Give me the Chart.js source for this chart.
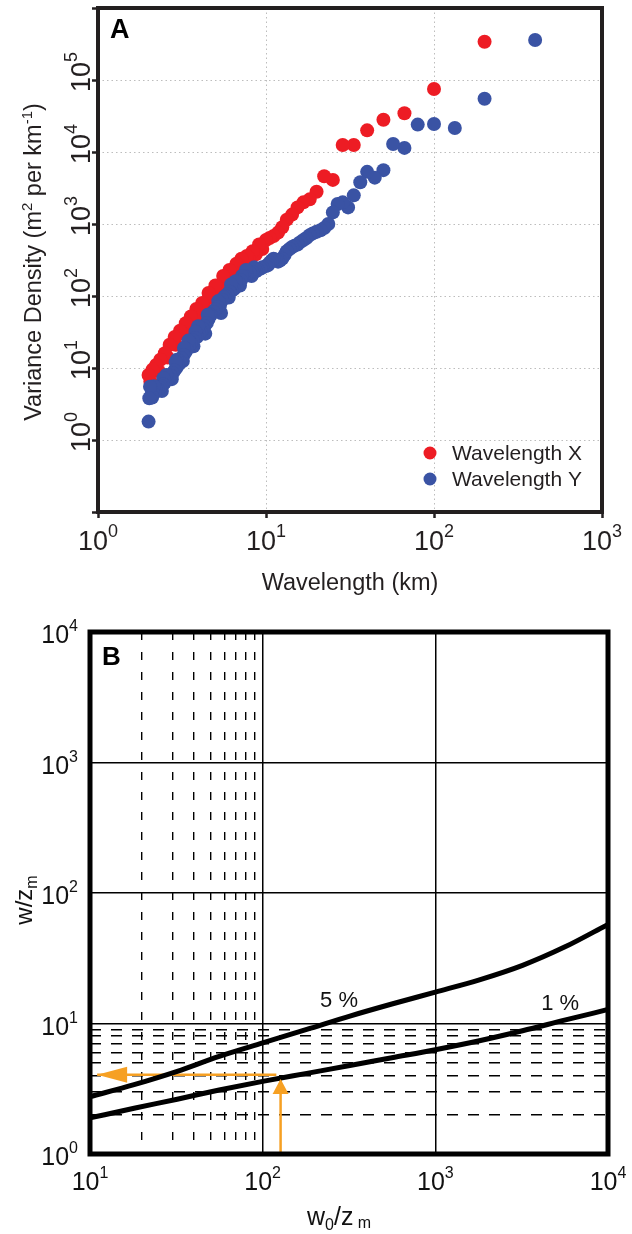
<!DOCTYPE html>
<html>
<head>
<meta charset="utf-8">
<script src="https://cdn.jsdelivr.net/npm/chart.js@4.4.1/dist/chart.umd.min.js"></script>
<style>
  body { margin: 0; background: #fff; overflow: hidden; }
  #wrap { position: relative; width: 632px; height: 1234px; }
  canvas { position: absolute; left: 0; }
  #chartA { top: 0; }
  #chartB { top: 600px; }
</style>
</head>
<body>
<div id="wrap">
  <canvas id="chartA" width="632" height="600"></canvas>
  <canvas id="chartB" width="632" height="634"></canvas>
</div>
<script>
// ---------- PANEL A DATA ----------
const wavelengthX = [200, 100, 66.7, 50, 40, 33.3, 28.6, 25, 22.2, 20, 18.2, 16.7, 15.4, 14.3, 13.3,
  12.5, 11.8, 11.1, 10.5, 10, 9.5, 9.09, 8.7, 8.33, 7.9, 7.69, 7.14, 7.0, 6.67, 6.4,
  6.06, 5.8, 5.56, 5.3, 5.0, 4.8, 4.55, 4.3, 4.17, 3.9, 3.85, 3.57, 3.5, 3.33, 3.2,
  3.08, 2.9, 2.86, 2.67, 2.6, 2.5, 2.35, 2.3, 2.22, 2.11, 2.05, 2.0];
const varianceX = [3.4e5, 7.5e4, 3.45e4, 2.8e4, 2.0e4, 1.25e4, 1.25e4, 4.1e3, 4.6e3, 2.8e3, 2.2e3, 2.0e3, 1.7e3, 1.35e3, 1.15e3,
  900, 760, 680, 640, 600, 450, 520, 380, 420, 330, 360, 330, 260, 280, 210,
  230, 165, 190, 125, 140, 95, 110, 70, 80, 52, 66, 52, 38, 42, 30,
  33, 21, 27, 21, 14, 16, 13, 9, 11, 9.5, 6.5, 8];

const wavelengthY = [400, 200, 133, 100, 80, 66.7, 57.1, 50, 44.4, 40, 36.4, 33.3, 30.8, 28.6, 26.7,
  25, 23.5, 22.2, 21.1, 20, 19.0, 18.2, 17.4, 16.7, 16.0, 15.4, 14.8, 14.3, 13.8, 13.3,
  12.9, 12.5, 12.1, 11.8, 11.4, 11.1, 10.8, 10.5, 10.3, 10, 9.5, 9.3, 8.9, 8.7, 8.5,
  8.3, 8.2, 8.0, 7.7, 7.6, 7.4, 7.2, 7.1, 7.0, 6.9, 6.67, 6.6, 6.45, 6.25, 6.2,
  6.06, 6.0, 5.88, 5.71, 5.6, 5.5, 5.4, 5.33, 5.2, 5.16, 5.0, 4.85, 4.71, 4.6, 4.55,
  4.5, 4.44, 4.35, 4.3, 4.21, 4.1, 4.0, 3.95, 3.88, 3.8, 3.77, 3.7, 3.67, 3.57, 3.48,
  3.45, 3.39, 3.31, 3.25, 3.23, 3.2, 3.15, 3.08, 3.0, 2.95, 2.92, 2.9, 2.85, 2.78, 2.75,
  2.7, 2.63, 2.56, 2.55, 2.5, 2.45, 2.44, 2.4, 2.38, 2.33, 2.27, 2.22, 2.2, 2.17, 2.15,
  2.13, 2.1, 2.08, 2.04, 2.02, 2.0];
const varianceY = [3.6e5, 5.5e4, 2.15e4, 2.45e4, 2.4e4, 1.14e4, 1.29e4, 5.6e3, 4.4e3, 5.3e3, 3.8e3, 2.5e3, 1.7e3, 2.0e3, 1.9e3,
  1.45e3, 1.0e3, 880, 820, 780, 740, 700, 640, 600, 560, 520, 500, 480, 450, 420,
  370, 330, 310, 300, 320, 330, 310, 290, 270, 260, 250, 240, 230, 220, 250,
  215, 190, 210, 200, 230, 190, 190, 165, 140, 150, 135, 160, 125, 118, 145,
  115, 95, 105, 100, 95, 88, 58, 75, 85, 70, 65, 60, 55, 55, 48,
  55, 42, 30, 38, 35, 32, 30, 38, 27, 32, 26, 20, 24, 22, 20,
  24, 18, 16.5, 19, 15, 12.5, 13.5, 12, 11, 13, 10, 12, 9.2, 8.5, 7,
  7.8, 7.2, 6.8, 8, 6.3, 7.2, 5.9, 4.8, 5.6, 5.3, 5.0, 4.8, 5.2, 4.6, 5.6,
  4.4, 3.9, 4.2, 5.5, 3.8, 1.8];

const aXTicks = [1, 10, 100, 1000];
const aYTicks = [0.1, 1, 10, 100, 1e3, 1e4, 1e5, 1e6];
const aXLabelExps = [0, 1, 2, 3];
const aYLabelExps = [0, 1, 2, 3, 4, 5];

// ---------- PANEL B DATA ----------
const ratioW0 = [10, 18, 32, 56, 100, 180, 320, 560, 1000, 1800, 3200, 5600, 10000];
const curve5pct = [2.75, 3.4, 4.3, 5.6, 7.1, 9.0, 11.4, 14.1, 17.4, 21.6, 27.9, 38.5, 57.5];
const curve1pct = [1.89, 2.24, 2.63, 3.09, 3.6, 4.15, 4.77, 5.47, 6.3, 7.38, 8.8, 10.6, 12.8];
const arrowUpX = [127, 127];
const arrowUpY = [1, 3.75];
const arrowLeftX = [120, 11];
const arrowLeftY = [4.05, 4.05];
const curveLabels = ["5 %", "1 %"];
const curveLabelX = [215, 4100];
const curveLabelY = [13.3, 12.8];

const bXTicks = [10, 20, 30, 40, 50, 60, 70, 80, 90, 100, 1000, 10000];
const bYTicks = [1, 2, 3, 4, 5, 6, 7, 8, 9, 10, 100, 1000, 10000];
const bXLabelExps = [1, 2, 3, 4];
const bYLabelExps = [0, 1, 2, 3, 4];

// ---------- STYLE ----------
const FONT = '"Liberation Sans", Arial, sans-serif';
const RED = "#ed1c24";
const BLUE = "#3a53a4";
const ORANGE = "#f6a023";
const INK = "#231f20";

// ---------------- HELPERS ----------------

function toPoints(xs, ys) {
  return xs.map((v, i) => ({ x: v, y: ys[i] }));
}

function isDecade(v) {
  const l = Math.log10(v);
  return Math.abs(l - Math.round(l)) < 1e-9;
}

// draw a row of text pieces (for superscripts / subscripts)
function drawRuns(ctx, runs, x, y, align) {
  const widths = runs.map((r) => {
    ctx.font = (r.bold ? "bold " : "") + r.size + "px " + FONT;
    return ctx.measureText(r.text).width;
  });
  const total = widths.reduce((a, b) => a + b, 0);
  let cx = align === "center" ? x - total / 2 : align === "right" ? x - total : x;
  ctx.textAlign = "left";
  ctx.textBaseline = "alphabetic";
  runs.forEach((r, i) => {
    ctx.font = (r.bold ? "bold " : "") + r.size + "px " + FONT;
    ctx.fillText(r.text, cx, y + (r.dy || 0));
    cx += widths[i];
  });
}

function powRuns(exp, base, small, rise) {
  return [
    { text: "10", size: base },
    { text: String(exp), size: small, dy: -rise },
  ];
}

// ---------- PANEL A ----------

const panelAPlugin = {
  id: "panelA",
  afterDraw(chart) {
    const { ctx, chartArea: ca, scales } = chart;
    ctx.save();

    ctx.strokeStyle = INK;
    ctx.lineWidth = 4;
    ctx.strokeRect(ca.left, ca.top, ca.right - ca.left, ca.bottom - ca.top);

    ctx.fillStyle = INK;
    aXLabelExps.forEach((e) => {
      drawRuns(ctx, powRuns(e, 27, 18, 13), scales.x.getPixelForValue(10 ** e), 550, "center");
    });
    aYLabelExps.forEach((e) => {
      ctx.save();
      ctx.translate(90, scales.y.getPixelForValue(10 ** e));
      ctx.rotate(-Math.PI / 2);
      drawRuns(ctx, powRuns(e, 27, 18, 13), 8, 0, "center");
      ctx.restore();
    });

    drawRuns(ctx, [{ text: "Wavelength (km)", size: 23.5 }], (ca.left + ca.right) / 2, 590, "center");

    ctx.save();
    ctx.translate(41, 262);
    ctx.rotate(-Math.PI / 2);
    drawRuns(
      ctx,
      [
        { text: "Variance Density (m", size: 23.5 },
        { text: "2", size: 15, dy: -9 },
        { text: " per km", size: 23.5 },
        { text: "-1", size: 15, dy: -9 },
        { text: ")", size: 23.5 },
      ],
      0, 0, "center"
    );
    ctx.restore();

    ctx.fillStyle = "#000";
    drawRuns(ctx, [{ text: "A", size: 27, bold: true }], 110, 38, "left");

    // legend
    chart.data.datasets.forEach((ds, i) => {
      ctx.fillStyle = ds.pointBackgroundColor;
      ctx.beginPath();
      ctx.arc(430, 453 + i * 26, 6.5, 0, Math.PI * 2);
      ctx.fill();
      ctx.fillStyle = INK;
      drawRuns(ctx, [{ text: ds.label, size: 21 }], 452, 460 + i * 26, "left");
    });

    ctx.restore();
  },
};

function logAxisA(min, max, ticks, fitKey, fitSize) {
  return {
    type: "logarithmic",
    min,
    max,
    afterBuildTicks: (s) => {
      s.ticks = ticks.map((v) => ({ value: v }));
    },
    afterFit: (s) => {
      s[fitKey] = fitSize;
    },
    ticks: { display: false },
    grid: {
      color: "#bdbdbd",
      lineWidth: 1,
      tickColor: INK,
      tickLength: 6,
      tickWidth: 2.5,
    },
    border: { display: false, dash: [1.5, 3] },
  };
}

new Chart(document.getElementById("chartA").getContext("2d"), {
  type: "scatter",
  data: {
    datasets: [
      {
        label: "Wavelength X",
        data: toPoints(wavelengthX, varianceX),
        pointBackgroundColor: RED,
        pointBorderWidth: 0,
        pointRadius: 7,
        order: 1,
      },
      {
        label: "Wavelength Y",
        data: toPoints(wavelengthY, varianceY),
        pointBackgroundColor: BLUE,
        pointBorderWidth: 0,
        pointRadius: 7,
        order: 0,
      },
    ],
  },
  options: {
    responsive: false,
    animation: false,
    events: [],
    layout: { padding: { left: 0, top: 8, right: 30, bottom: 0 } },
    scales: {
      x: logAxisA(1, 1000, aXTicks, "height", 88),
      y: logAxisA(0.1, 1e6, aYTicks, "width", 98),
    },
    plugins: {
      legend: { display: false },
      tooltip: { enabled: false },
    },
  },
  plugins: [panelAPlugin],
});

// ---------- PANEL B ----------

const panelBPlugin = {
  id: "panelB",
  afterDatasetsDraw(chart) {
    const { ctx } = chart;
    ctx.save();
    chart.data.datasets.forEach((ds, i) => {
      if (!ds.arrowHead) return;
      const pts = chart.getDatasetMeta(i).data;
      const a = pts[0], b = pts[pts.length - 1];
      const dx = b.x - a.x, dy = b.y - a.y;
      const len = Math.hypot(dx, dy);
      const ux = dx / len, uy = dy / len;
      const bx = b.x - ux * ds.arrowHead[0], by = b.y - uy * ds.arrowHead[0];
      const h = ds.arrowHead[1];
      ctx.fillStyle = ds.borderColor;
      ctx.beginPath();
      ctx.moveTo(b.x, b.y);
      ctx.lineTo(bx - uy * h, by + ux * h);
      ctx.lineTo(bx + uy * h, by - ux * h);
      ctx.closePath();
      ctx.fill();
    });
    ctx.restore();
  },
  afterDraw(chart) {
    const { ctx, chartArea: ca, scales } = chart;
    ctx.save();

    ctx.strokeStyle = "#000";
    ctx.lineWidth = 5;
    ctx.strokeRect(ca.left, ca.top, ca.right - ca.left, ca.bottom - ca.top);

    ctx.fillStyle = "#111";
    bXLabelExps.forEach((e) => {
      drawRuns(ctx, powRuns(e, 25, 16, 12), scales.x.getPixelForValue(10 ** e), 590, "center");
    });
    bYLabelExps.forEach((e) => {
      drawRuns(ctx, powRuns(e, 25, 16, 12), 78, scales.y.getPixelForValue(10 ** e) + 11, "right");
    });

    curveLabels.forEach((t, i) => {
      drawRuns(
        ctx,
        [{ text: t, size: 22 }],
        scales.x.getPixelForValue(curveLabelX[i]),
        scales.y.getPixelForValue(curveLabelY[i]),
        "left"
      );
    });

    drawRuns(
      ctx,
      [
        { text: "w", size: 25 },
        { text: "0", size: 16, dy: 5 },
        { text: "/z", size: 25 },
        { text: " m", size: 16, dy: 3 },
      ],
      307, 625, "left"
    );

    ctx.save();
    ctx.translate(32, 300);
    ctx.rotate(-Math.PI / 2);
    drawRuns(
      ctx,
      [
        { text: "w/z", size: 24 },
        { text: "m", size: 16, dy: 5 },
      ],
      0, 0, "center"
    );
    ctx.restore();

    ctx.fillStyle = "#000";
    drawRuns(ctx, [{ text: "B", size: 26, bold: true }], 102, 65, "left");

    ctx.restore();
  },
};

function logAxisB(min, max, ticks, dash, fitKey, fitSize) {
  return {
    type: "logarithmic",
    min,
    max,
    afterBuildTicks: (s) => {
      s.ticks = ticks.map((v) => ({ value: v }));
    },
    afterFit: (s) => {
      s[fitKey] = fitSize;
    },
    ticks: { display: false },
    grid: {
      color: "#000",
      lineWidth: (c) => (c.tick && !isDecade(c.tick.value) ? 1.4 : 1.5),
      drawTicks: false,
    },
    border: {
      display: false,
      dash: (c) => (c.tick && !isDecade(c.tick.value) ? dash : []),
    },
  };
}

new Chart(document.getElementById("chartB").getContext("2d"), {
  type: "line",
  data: {
    datasets: [
      {
        label: "5 %",
        data: toPoints(ratioW0, curve5pct),
        borderColor: "#000",
        borderWidth: 5,
        pointRadius: 0,
        cubicInterpolationMode: "monotone",
      },
      {
        label: "1 %",
        data: toPoints(ratioW0, curve1pct),
        borderColor: "#000",
        borderWidth: 5,
        pointRadius: 0,
        cubicInterpolationMode: "monotone",
      },
      {
        label: "up",
        data: toPoints(arrowUpX, arrowUpY),
        borderColor: ORANGE,
        borderWidth: 2.5,
        pointRadius: 0,
        arrowHead: [15, 8],
      },
      {
        label: "left",
        data: toPoints(arrowLeftX, arrowLeftY),
        borderColor: ORANGE,
        borderWidth: 2.5,
        pointRadius: 0,
        arrowHead: [30, 8],
      },
    ],
  },
  options: {
    responsive: false,
    animation: false,
    events: [],
    layout: { padding: { left: 0, top: 32, right: 24, bottom: 0 } },
    scales: {
      x: logAxisB(10, 10000, bXTicks, [8, 12], "height", 80),
      y: logAxisB(1, 10000, bYTicks, [11, 10], "width", 90),
    },
    plugins: {
      legend: { display: false },
      tooltip: { enabled: false },
    },
  },
  plugins: [panelBPlugin],
});
</script>
</body>
</html>
